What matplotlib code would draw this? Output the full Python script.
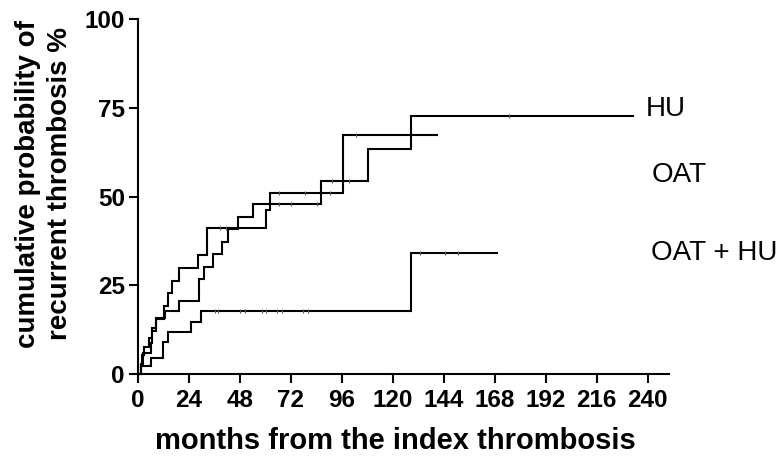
import matplotlib
matplotlib.use("Agg")
import matplotlib.pyplot as plt

plt.rcParams["font.family"] = ["Liberation Sans", "DejaVu Sans"]

# step curves: event times (months) and cumulative probability (%)
hu_t = [0, 1.3, 2.2, 6.0, 6.8, 8.6, 12.7, 19.5, 28.9, 31.3, 35.3, 39.4, 42.3, 47.3, 54.3, 86.4, 108.4, 128.5]
hu_p = [0, 2.9, 5.8, 8.8, 12.2, 15.9, 17.8, 20.6, 26.8, 30.2, 33.8, 37.3, 40.8, 44.2, 47.9, 54.4, 63.4, 72.7]
hu_end = 233
hu_cens = [66.5, 72.3, 84.4, 91.6, 99.4, 174.7]

oat_t = [0, 1.2, 1.7, 2.8, 5.2, 6.4, 8.3, 12.2, 14.0, 16.2, 19.2, 28.4, 32.3, 60.2, 62.1, 96.4]
oat_p = [0, 2.6, 5.4, 7.7, 10.1, 12.9, 15.4, 19.3, 22.7, 26.2, 29.8, 33.5, 41.2, 46.2, 51.1, 67.4]
oat_end = 141
oat_cens = [38.6, 41.6, 66.5, 78.6, 90.6, 102.6]

both_t = [0, 1.6, 6.2, 11.8, 14.2, 25.2, 29.8, 128.5]
both_p = [0, 2.3, 4.4, 9.1, 11.9, 14.7, 17.8, 34.2]
both_end = 169
both_cens = [36.2, 37.8, 48.0, 50.4, 58.2, 60.5, 65.3, 67.6, 77.8, 80.2, 132.7, 144.5, 150.7]

groups = [("HU", hu_t, hu_p, hu_end, hu_cens),
          ("OAT", oat_t, oat_p, oat_end, oat_cens),
          ("OAT + HU", both_t, both_p, both_end, both_cens)]

x_ticks = list(range(0, 241, 24))
y_ticks = [0, 25, 50, 75, 100]


def level_at(times, probs, t):
    val = probs[0]
    for ti, pi in zip(times, probs):
        if ti <= t:
            val = pi
    return val


fig = plt.figure(figsize=(7.84, 4.62), dpi=100)
ax = fig.add_axes([0.176, 0.1905, 0.677, 0.768])

for name, t, p, end, cens in groups:
    ax.step(t + [end], p + [p[-1]], where="post", color="black",
            lw=1.5, clip_on=False, solid_joinstyle="miter")
    # censored observations as small ticks on the curve
    ax.plot(cens, [level_at(t, p, c) for c in cens], ls="none", marker="|",
            ms=3, mew=0.8, color="0.35", clip_on=False)

ax.set_xlim(0, 250)
ax.set_ylim(0, 100)
ax.set_xticks(x_ticks)
ax.set_yticks(y_ticks)
for side in ("top", "right"):
    ax.spines[side].set_visible(False)
for side in ("left", "bottom"):
    ax.spines[side].set_linewidth(1.5)
ax.tick_params(direction="out", length=6.5, width=1.5, labelsize=17.5, pad=3)
ax.tick_params(axis="x", pad=4)
for lab in ax.get_xticklabels() + ax.get_yticklabels():
    lab.set_fontweight("bold")

fig.text(44 / 784, 1 - 184 / 462, "cumulative probability of\nrecurrent thrombosis %",
         rotation=90, ha="center", va="center", fontsize=20, fontweight="bold",
         linespacing=1.32)
fig.text(395 / 784, 1 - 441 / 462, "months from the index thrombosis",
         ha="center", va="center", fontsize=21, fontweight="bold")

# group labels to the right of the curves
fig.text(646 / 784, 1 - 109 / 462, "HU", ha="left", va="center", fontsize=20)
fig.text(652 / 784, 1 - 175 / 462, "OAT", ha="left", va="center", fontsize=20)
fig.text(651 / 784, 1 - 253.5 / 462, "OAT + HU", ha="left", va="center", fontsize=20)

fig.savefig("out.png", dpi=100)
